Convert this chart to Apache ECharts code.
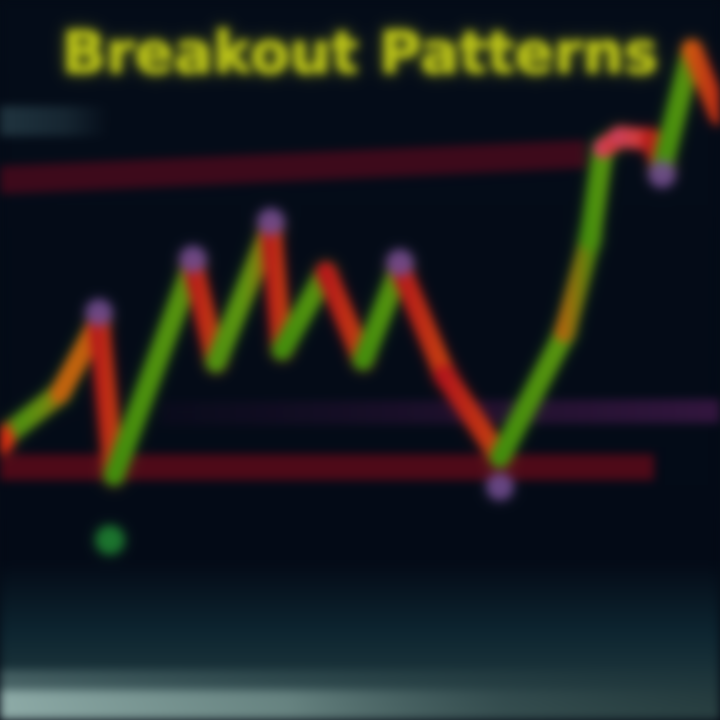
<!DOCTYPE html>
<html>
<head>
<meta charset="utf-8">
<script src="https://cdn.jsdelivr.net/npm/echarts@6/dist/echarts.min.js"></script>
<style>
  html, body { margin: 0; padding: 0; background: #050b16; overflow: hidden; }
  #chart { width: 720px; height: 720px; filter: blur(5px); }
</style>
</head>
<body>
<div id="chart"></div>
<script>
// ---- data ----
const titleText = "Breakout Patterns";
const days   = [0, 3, 4.95, 5.7, 9.65, 10.8, 13.55, 14.1, 16.3, 18.15, 20, 22.25, 25, 28.25, 29.5, 30.15, 31.0, 32.6, 33.1, 34.6, 36];
const prices = [38.9, 45.4, 55.3, 34.0, 63.2, 49.7, 68.3, 51.4, 62.2, 50.0, 62.8, 47.9, 36.5, 53.8, 66.7, 79.4, 81.0, 80.6, 76.7, 93.1, 84.0];
const pivotDays   = [4.95, 9.65, 13.55, 20, 25, 33.1];
const pivotPrices = [56.6, 64.0, 69.2, 63.5, 32.4, 75.8];
const signalDays   = [5.5];
const signalPrices = [25.0];
const resistanceDays   = [0, 29.3];
const resistancePrices = [75.0, 78.6];
const supportDays   = [0, 32.7];
const supportPrices = [35.1, 35.1];
const breakoutDays   = [8, 36];
const breakoutPrices = [42.6, 42.9];

// ---- styles ----
const UP = ['#3f8c0c', '#5c9410'];
const DOWN = ['#b0101c', '#c8480e'];

function grad(stops) {
  return new echarts.graphic.LinearGradient(0, 0, 1, 0,
    stops.map((c, k) => ({ offset: k / (stops.length - 1), color: c })));
}

const series = [];
function pairs(xs, ys) { return xs.map((x, i) => [x, ys[i]]); }

series.push({ type: 'line', data: pairs(resistanceDays, resistancePrices), showSymbol: false, silent: true, z: 1,
  lineStyle: { width: 28, color: '#440a1c', opacity: 0.9 } });
series.push({ type: 'line', data: pairs(supportDays, supportPrices), showSymbol: false, silent: true, z: 1,
  lineStyle: { width: 26, color: '#560a18', opacity: 0.9 } });
series.push({ type: 'line', data: pairs(breakoutDays, breakoutPrices), showSymbol: false, silent: true, z: 1,
  lineStyle: { width: 24, color: new echarts.graphic.LinearGradient(0, 0, 1, 0, [
    { offset: 0, color: 'rgba(40,14,50,0.15)' }, { offset: 0.6, color: 'rgba(52,20,62,0.6)' }, { offset: 1, color: 'rgba(60,24,70,0.85)' }]) } });

for (let i = 0; i < days.length - 1; i++) {
  const up = prices[i + 1] > prices[i];
  let c = up ? UP : DOWN;
  if (i === 0) c = ['#d82810', '#4c9010', '#6a8c10', '#c0640e'];
  if (i === 1) c = ['#c0640e', '#c0600e'];
  if (i === 5) c = ['#4c9010', '#5c9410', '#b8640e'];
  if (i === 13) c = ['#c0600e', '#3f8c0c'];
  if (i === 15 || i === 16) c = ['#c84060', '#d83a20'];
  if (i === 19) c = ['#d0600e', '#b01a18'];
  series.push({
    type: 'line', data: [[days[i], prices[i]], [days[i + 1], prices[i + 1]]],
    showSymbol: false, silent: true, z: 3,
    lineStyle: { width: 20, cap: 'round', color: grad(c),
      shadowBlur: 12, shadowColor: up ? 'rgba(70,140,20,0.5)' : 'rgba(190,30,20,0.5)' }
  });
}

series.push({ type: 'scatter', data: pairs(pivotDays, pivotPrices), symbolSize: 26, z: 5,
  itemStyle: { color: '#6c4a88', shadowBlur: 10, shadowColor: 'rgba(120,80,150,0.8)' } });
series.push({ type: 'scatter', data: pairs(signalDays, signalPrices), symbolSize: 28, z: 5,
  itemStyle: { color: '#1e7a30', shadowBlur: 10, shadowColor: 'rgba(30,140,50,0.8)' } });
series.push({ type: 'scatter', data: [[days[0], prices[0]]], symbolSize: 28, z: 5,
  itemStyle: { color: '#e02a12', shadowBlur: 10, shadowColor: 'rgba(230,40,20,0.8)' } });

const chart = echarts.init(document.getElementById('chart'), null, { renderer: 'canvas' });
chart.setOption({
  animation: false,
  backgroundColor: new echarts.graphic.LinearGradient(0, 0, 0, 1, [
    { offset: 0, color: '#040c18' },
    { offset: 0.78, color: '#030a16' },
    { offset: 0.88, color: '#0d2530' },
    { offset: 1, color: '#2a4244' }
  ]),
  title: {
    text: titleText, left: 'center', top: 24,
    textStyle: { color: '#bcc418', fontSize: 58, fontWeight: 'bold', fontFamily: 'DejaVu Sans',
      textShadowColor: 'rgba(190,200,20,0.6)', textShadowBlur: 14 }
  },
  graphic: [
    { type: 'rect', shape: { x: 0, y: 106, width: 110, height: 30 }, z: 0,
      style: { fill: new echarts.graphic.LinearGradient(0, 0, 1, 0, [
        { offset: 0, color: 'rgba(55,85,95,0.55)' }, { offset: 0.6, color: 'rgba(55,85,95,0.35)' }, { offset: 1, color: 'rgba(55,85,95,0)' }]) } },
    { type: 'rect', shape: { x: 0, y: 670, width: 720, height: 20 }, z: 0,
      style: { fill: new echarts.graphic.LinearGradient(0, 0, 1, 0, [
        { offset: 0, color: 'rgba(120,150,148,0.45)' }, { offset: 0.45, color: 'rgba(80,110,110,0.3)' }, { offset: 1, color: 'rgba(40,60,60,0.1)' }]) } },
    { type: 'rect', shape: { x: 0, y: 690, width: 720, height: 30 }, z: 0,
      style: { fill: new echarts.graphic.LinearGradient(0, 0, 1, 0, [
        { offset: 0, color: 'rgba(160,190,185,0.85)' }, { offset: 0.4, color: 'rgba(130,160,155,0.7)' },
        { offset: 0.7, color: 'rgba(70,95,95,0.45)' }, { offset: 1, color: 'rgba(40,60,60,0.3)' }]) } }
  ],
  grid: { left: 0, right: 0, top: 0, bottom: 0 },
  xAxis: { type: 'value', min: 0, max: 36, show: false },
  yAxis: { type: 'value', min: 0, max: 100, show: false },
  series: series
});
</script>
</body>
</html>
